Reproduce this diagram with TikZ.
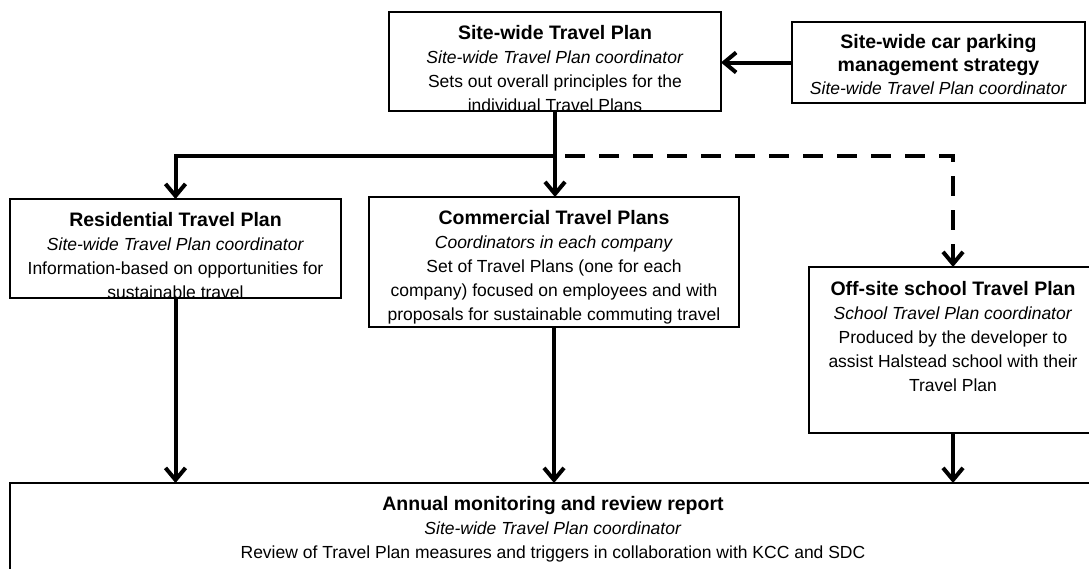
\documentclass[tikz,border=0pt]{standalone}
\usepackage{fontspec}
\setmainfont{Liberation Sans}
\usetikzlibrary{arrows.meta}
\newcommand{\ttl}[1]{{\fontsize{19.5}{24}\selectfont\bfseries #1}}
\begin{document}
\begin{tikzpicture}[x=1pt,y=-1pt,
  box/.style={draw=black,line width=1.5pt,inner sep=0pt,outer sep=0pt,anchor=north west,fill=white},
  txt/.style={anchor=north,align=center,inner sep=0pt,font=\fontsize{17.5}{24}\selectfont},
  line/.style={line width=4pt},
  arr/.style={line width=4pt,-{Straight Barb[length=12pt,width=20pt,line width=4pt]}},
  darr/.style={line width=4pt,dash pattern=on 20pt off 14pt,-{Straight Barb[length=12pt,width=20pt,line width=4pt]}}
]
\path[use as bounding box,clip] (0,0) rectangle (1089,568);
\fill[white] (0,0) rectangle (1089,568);
% boxes
\node[box,minimum width=332pt,minimum height=99pt] (sw) at (389,12) {};
\node[box,minimum width=293pt,minimum height=81pt] (car) at (792,22) {};
\node[box,minimum width=331pt,minimum height=99pt] (res) at (10,199) {};
\node[box,minimum width=370pt,minimum height=130pt] (com) at (369,197) {};
\node[box,minimum width=288pt,minimum height=166pt] (off) at (809,267) {};
\node[box,minimum width=1086pt,minimum height=120pt] (ann) at (10,483) {};
% texts
\node[txt] (swt) at (555,25) {\ttl{Site-wide Travel Plan}\\\textit{Site-wide Travel Plan coordinator}\\Sets out overall principles for the\\individual Travel Plans};
\node[txt,font=\fontsize{17.5}{23}\selectfont] (cart) at (938.5,34.5) {\ttl{Site-wide car parking}\\\ttl{management strategy}\\\textit{Site-wide Travel Plan coordinator}};
\node[txt] (rest) at (175.5,212) {\ttl{Residential Travel Plan}\\\textit{Site-wide Travel Plan coordinator}\\Information-based on opportunities for\\sustainable travel};
\node[txt] (comt) at (554,210) {\ttl{Commercial Travel Plans}\\\textit{Coordinators in each company}\\Set of Travel Plans (one for each\\company) focused on employees and with\\proposals for sustainable commuting travel};
\node[txt] (offt) at (953,281) {\ttl{Off-site school Travel Plan}\\\textit{School Travel Plan coordinator}\\Produced by the developer to\\assist Halstead school with their\\Travel Plan};
\node[txt] (annt) at (553,496.5) {\ttl{Annual monitoring and review report}\\\textit{Site-wide Travel Plan coordinator}\\Review of Travel Plan measures and triggers in collaboration with KCC and SDC};
% connectors
\coordinate (j) at (555,156);
\draw[arr] (car.west) -- (car.west -| sw.east);
\draw[line] (sw.south) -- (j);
\draw[arr] (j) -| (res.north);
\draw[arr] (j) -- (j |- com.north);
\draw[darr] ([xshift=10pt]j) -| (off.north);
\draw[arr] (res.south) -- (res.south |- ann.north);
\draw[arr] (com.south) -- (com.south |- ann.north);
\draw[arr] (off.south) -- (off.south |- ann.north);
\end{tikzpicture}
\end{document}
